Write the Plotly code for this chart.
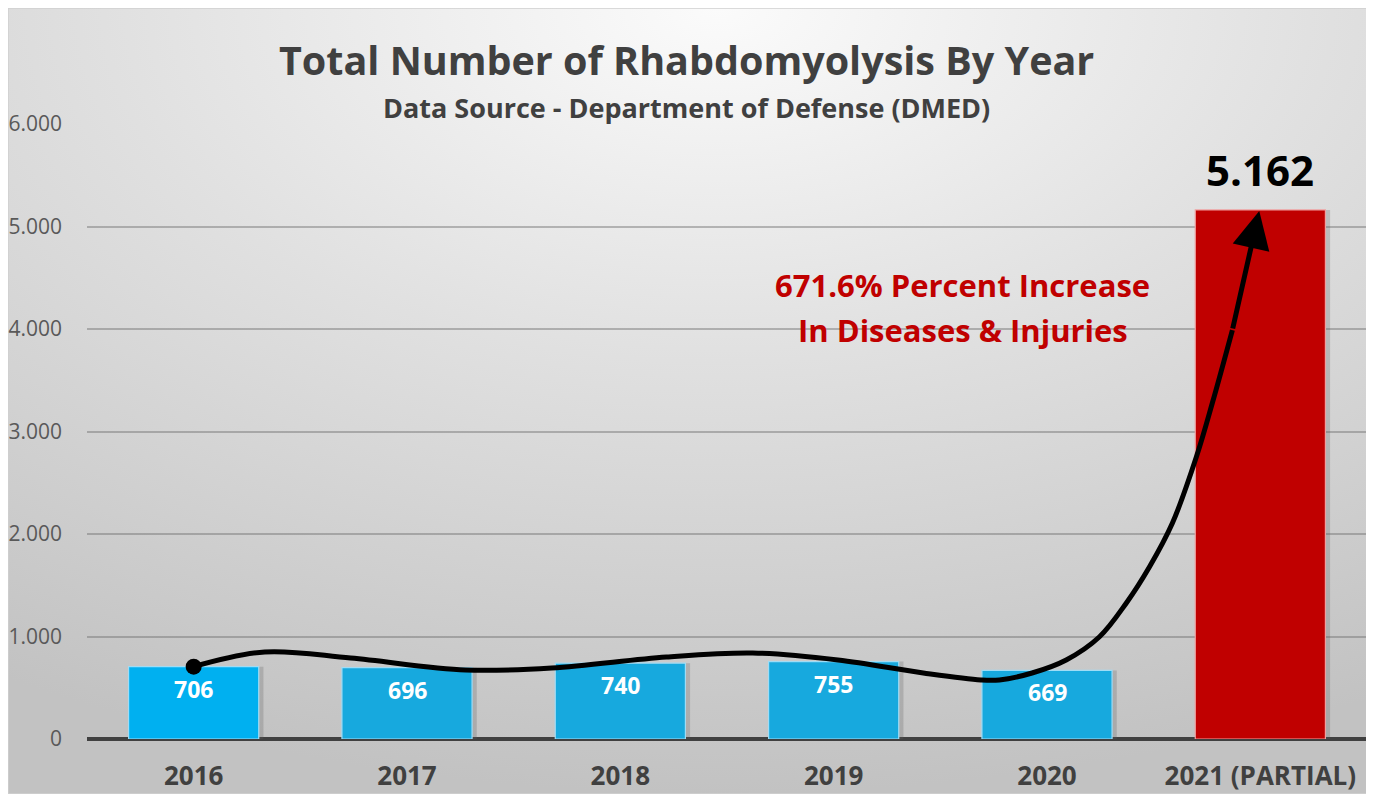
import base64
import plotly.graph_objects as go

categories = ["2016", "2017", "2018", "2019", "2020", "2021 (PARTIAL)"]
values = [706, 696, 740, 755, 669, 5162]
bar_colors = ["#00b0f0", "#17a9de", "#17a9de", "#17a9de", "#17a9de", "#c00000"]
line_colors = ["#9fdcf5", "#9fdcf5", "#9fdcf5", "#9fdcf5", "#9fdcf5", "#f0a0a0"]

# hand-drawn trend curve (category units, values)
curve_x = [0.0, 0.333, 0.736, 1.275, 1.678, 2.216, 2.62, 3.02, 3.42, 3.69, 3.777,
           3.93, 4.09, 4.245, 4.372, 4.48, 4.588, 4.70, 4.775, 4.869]
curve_y = [706, 849, 790, 673, 693, 800, 839, 771, 644, 576, 576,
           644, 771, 995, 1327, 1678, 2107, 2751, 3278, 3990]
arrow_tail = (4.869, 3990)
arrow_tip = (4.995, 5151)

title = "Total Number of Rhabdomyolysis By Year"
subtitle = "Data Source - Department of Defense (DMED)"
note_lines = ["671.6% Percent Increase", "In Diseases & Injuries"]
note_pos = [(3.604, 4429), (3.604, 3990)]
yticks = [0, 1000, 2000, 3000, 4000, 5000, 6000]

FONT = "Open Sans"
OFF = 8  # page body margin
W, H = 1374 - OFF, 794 - OFF
L, R, T, B = 87 - OFF, 1374 - 1367, 124 - OFF, 794 - 739
pw, ph = W - L - R, H - T - B
PX0, PY0 = 87, 739  # page coords of plot origin


def paper_x(px):
    return (px - PX0) / pw


def paper_y(py):
    return (PY0 - py) / ph


svg = f'''<svg xmlns="http://www.w3.org/2000/svg" width="{W}" height="{H}" viewBox="0 0 {W} {H}" preserveAspectRatio="none">
<defs><radialGradient id="g" cx="0.52" cy="0.0" r="1.0" gradientUnits="objectBoundingBox">
<stop offset="0" stop-color="#fbfbfb"/><stop offset="0.45" stop-color="#e0e0e0"/><stop offset="1" stop-color="#c2c2c2"/></radialGradient></defs>
<rect x="0" y="0" width="{W}" height="{H}" fill="url(#g)" stroke="#d0d0d0" stroke-width="1.5"/></svg>'''
src = "data:image/svg+xml;base64," + base64.b64encode(svg.encode()).decode()

xs = list(range(len(categories)))
fig = go.Figure()

# shadows
fig.add_trace(go.Bar(x=xs, y=values, width=0.61, offset=-0.305 + 0.022,
                     marker=dict(color="rgba(90,90,90,0.25)", line=dict(width=0)),
                     hoverinfo="skip", showlegend=False))
fig.add_trace(go.Bar(x=xs, y=values, width=0.61, offset=-0.305,
                     marker=dict(color=bar_colors, line=dict(color=line_colors, width=1.2)),
                     showlegend=False))
fig.add_trace(go.Scatter(x=curve_x, y=curve_y, mode="lines",
                         line=dict(color="black", width=5, shape="spline", smoothing=1.0),
                         showlegend=False, hoverinfo="skip"))
fig.add_trace(go.Scatter(x=[curve_x[0]], y=[curve_y[0]], mode="markers",
                         marker=dict(color="black", size=16), showlegend=False, hoverinfo="skip"))

fig.update_layout(barmode="overlay")

for i, v in enumerate(values[:-1]):
    fig.add_annotation(x=i, y=v, text=f"<b>{v}</b>", showarrow=False, yshift=-22,
                       yanchor="middle", font=dict(family=FONT, size=23, color="white"))
fig.add_annotation(x=5, y=values[-1], text=f"<b>{values[-1]:,}</b>".replace(",", "."),
                   showarrow=False, yshift=40, yanchor="middle",
                   font=dict(family=FONT, size=42, color="black"))
for line, (nx, ny) in zip(note_lines, note_pos):
    fig.add_annotation(x=nx, y=ny, text=f"<b>{line}</b>", showarrow=False, yanchor="middle",
                       font=dict(family=FONT, size=31, color="#c00000"))
fig.add_annotation(x=arrow_tip[0], y=arrow_tip[1], ax=arrow_tail[0], ay=arrow_tail[1],
                   xref="x", yref="y", axref="x", ayref="y", text="", showarrow=True,
                   arrowhead=2, arrowsize=1.5, arrowwidth=5, arrowcolor="black")

fig.add_annotation(xref="paper", yref="paper", x=paper_x(686.5), y=paper_y(60),
                   text=f"<b>{title}</b>", showarrow=False, yanchor="middle",
                   font=dict(family=FONT, size=39.5, color="#404040"))
fig.add_annotation(xref="paper", yref="paper", x=paper_x(686.5), y=paper_y(107),
                   text=f"<b>{subtitle}</b>", showarrow=False, yanchor="middle",
                   font=dict(family=FONT, size=27, color="#404040"))

fig.update_layout(
    width=W, height=H,
    margin=dict(l=L, r=R, t=T, b=B, autoexpand=False),
    paper_bgcolor="white", plot_bgcolor="rgba(0,0,0,0)",
    separators=",.",
    images=[dict(source=src, xref="paper", yref="paper", x=-L / pw, y=(ph + T) / ph,
                 sizex=W / pw, sizey=H / ph, sizing="stretch", xanchor="left",
                 yanchor="top", layer="below")],
    xaxis=dict(range=[-0.5, 5.5], tickvals=xs, ticktext=[f"<b>{c}</b>" for c in categories],
               tickfont=dict(family=FONT, size=26, color="#404040"), showgrid=False,
               zeroline=False, showline=False, ticks="outside", ticklen=14,
               tickcolor="rgba(0,0,0,0)", automargin=False),
    yaxis=dict(range=[0, 6000], tickvals=yticks, tickformat=",d",
               tickfont=dict(family=FONT, size=21, color="#595959"),
               showgrid=True, gridcolor="rgba(110,110,110,0.45)", gridwidth=1.5,
               zeroline=True, zerolinecolor="#404040", zerolinewidth=4,
               ticklabelstandoff=24, automargin=False),
)

fig.write_html("out.html")
